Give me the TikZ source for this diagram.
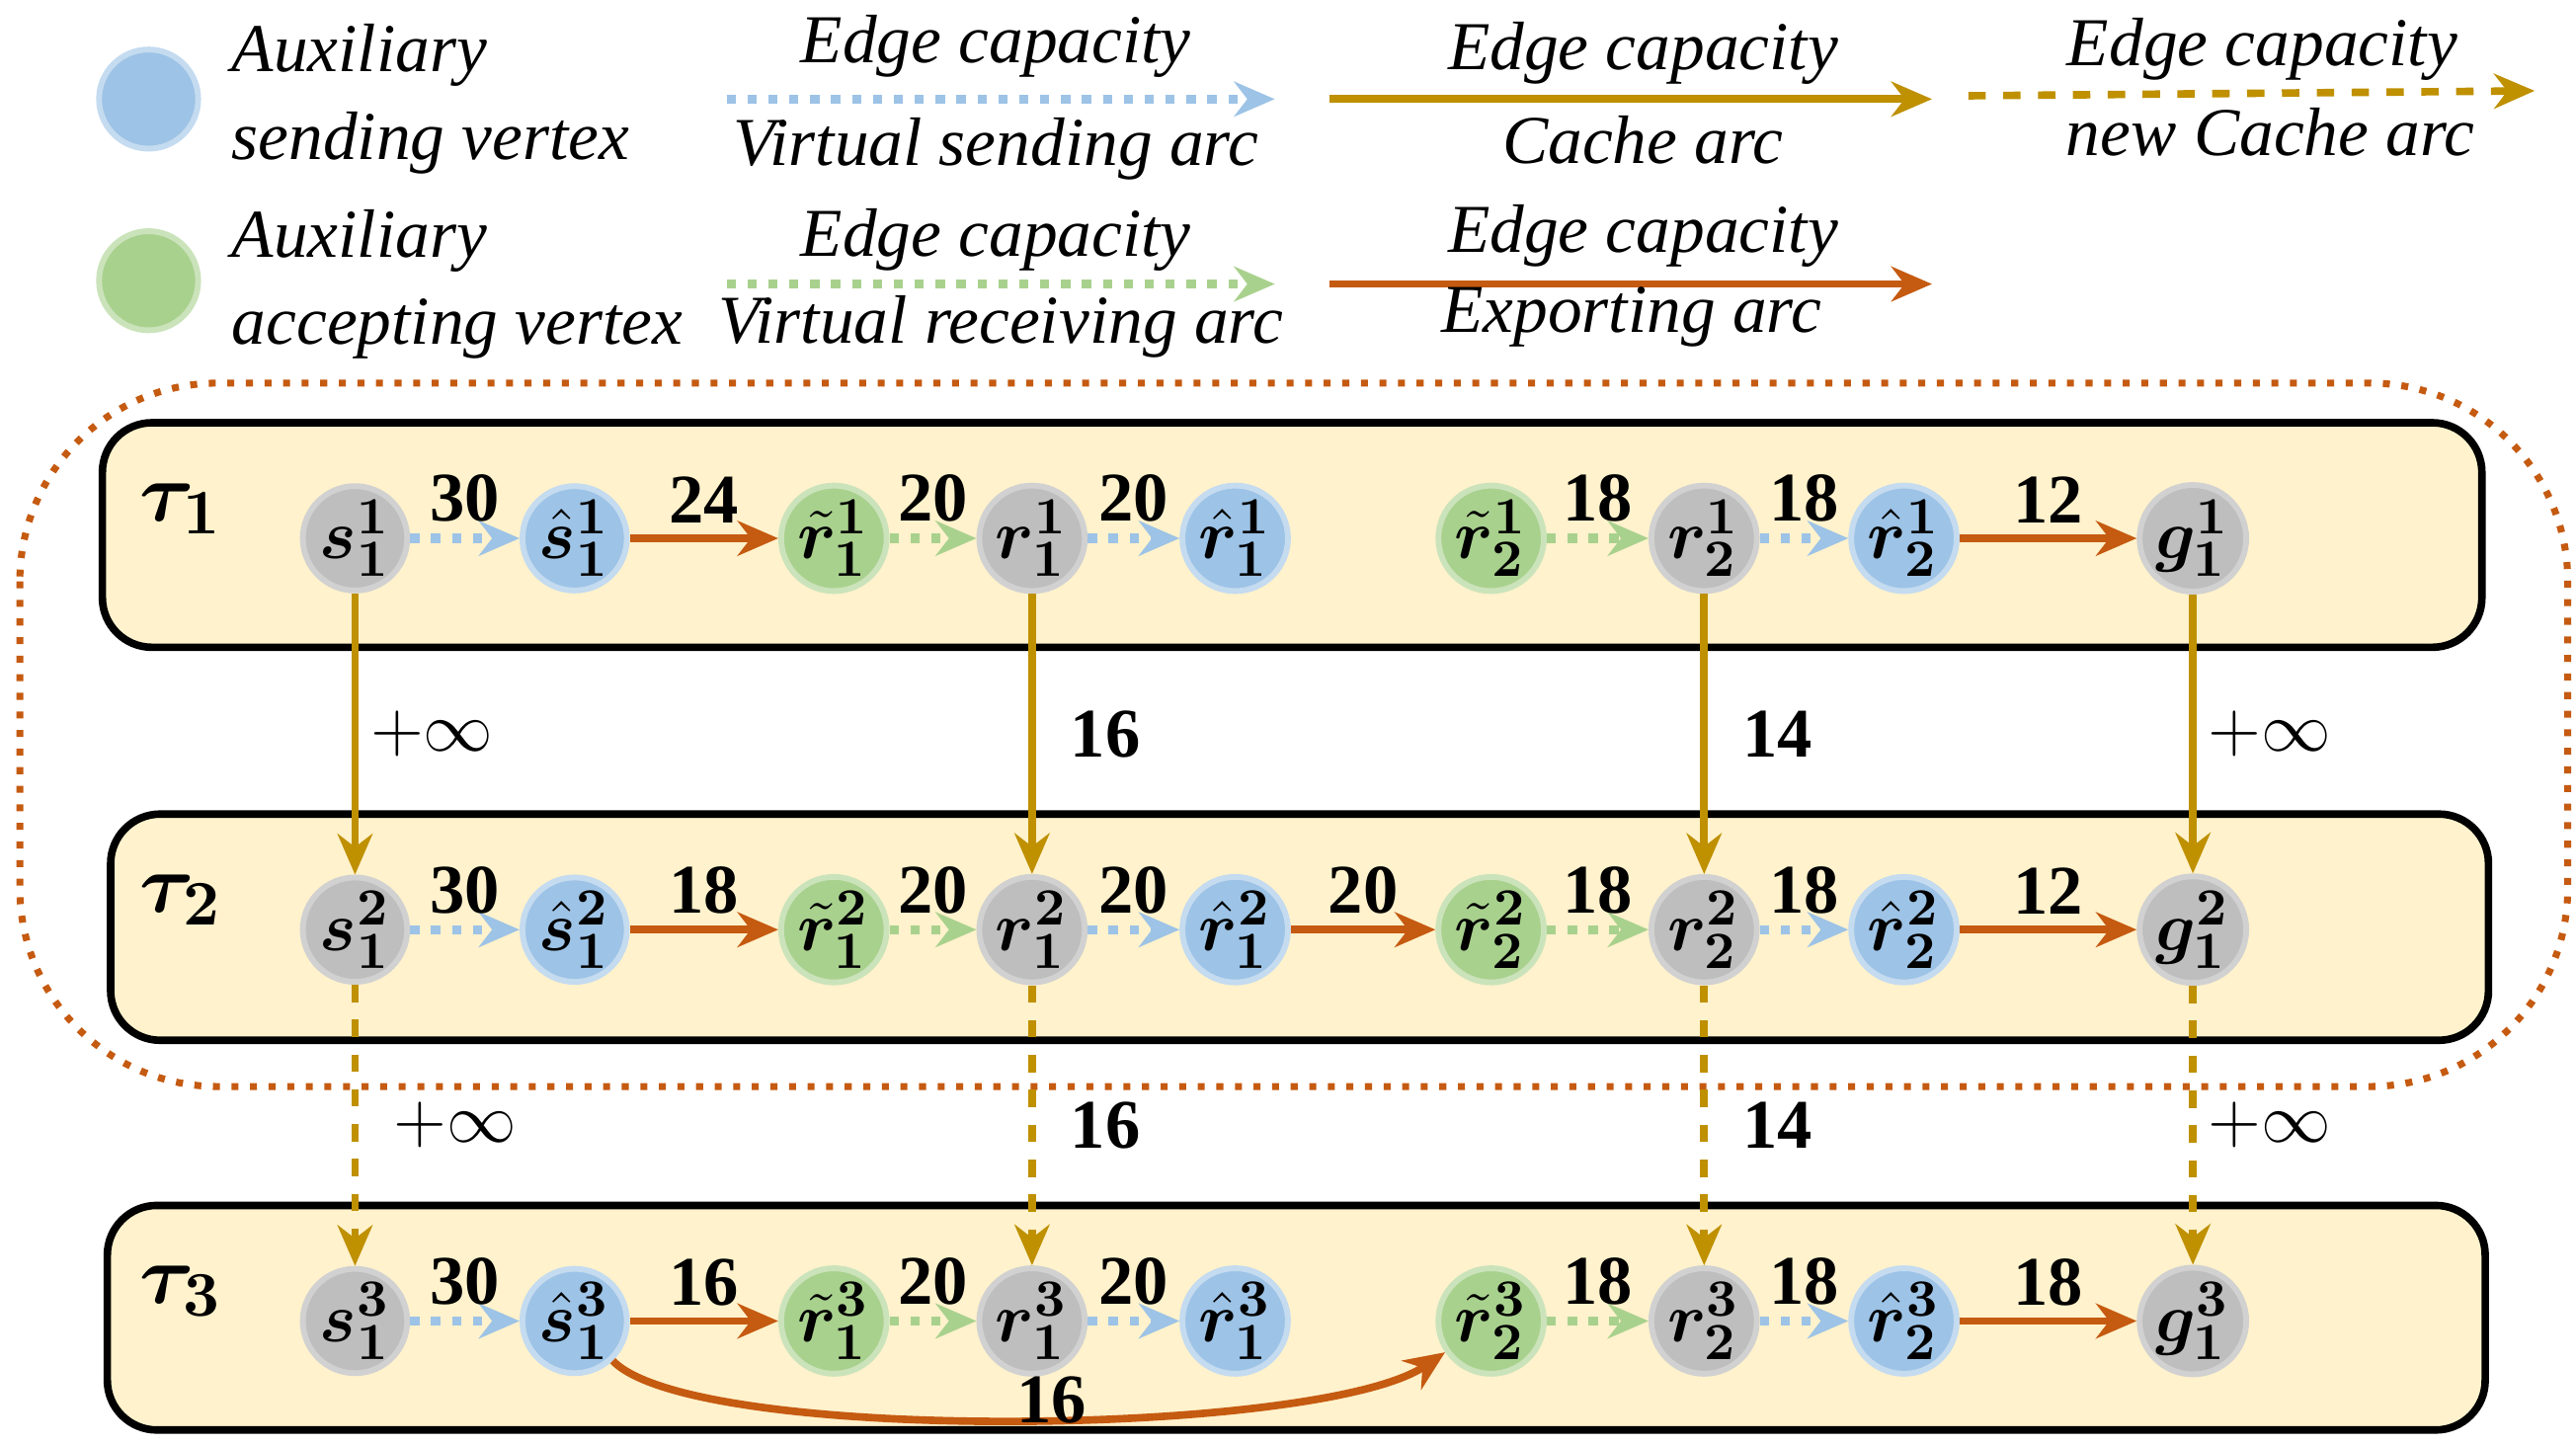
\documentclass[tikz,border=0pt]{standalone}
\usepackage{bm}
\usepackage{fontspec}
\setmainfont{Liberation Serif}
\usetikzlibrary{arrows.meta}
\definecolor{gold}{RGB}{191,144,0}
\definecolor{orng}{RGB}{197,90,17}
\definecolor{lblue}{RGB}{157,195,230}
\definecolor{lgreen}{RGB}{169,209,142}
\definecolor{gry}{RGB}{190,190,190}
\definecolor{boxf}{RGB}{255,242,204}
\begin{document}
\begin{tikzpicture}[x=0.01cm,y=-0.01cm,
 v/.style={circle,minimum size=0.58cm,inner sep=0pt,font=\fontsize{12.5}{15}\selectfont},
 gv/.style={v,fill=gry,draw=gry!70!white,line width=1pt},
 bv/.style={v,fill=lblue,draw=lblue!60!white,line width=1pt},
 nv/.style={v,fill=lgreen,draw=lgreen!60!white,line width=1pt},
 tip/.style={-{Stealth[length=7pt,width=6pt]}},
 bd/.style={tip,lblue,dotted,line width=1.6pt},
 gd/.style={tip,lgreen,dotted,line width=1.6pt},
 ca/.style={tip,gold,line width=1.3pt},
 nc/.style={tip,gold,dashed,line width=1.3pt},
 ex/.style={tip,orng,line width=1.3pt},
 lab/.style={font=\fontsize{12}{14}\selectfont\bfseries,text=black,inner sep=2pt},
 leg/.style={font=\fontsize{11.8}{15}\selectfont\itshape,text=black},
 box/.style={draw=black,fill=boxf,line width=1.3pt,rounded corners=0.3cm}]
\useasboundingbox (0,0) rectangle (1560,875);
% legend
\node[bv,minimum size=0.6cm] (lb) at (90,60) {};
\node[leg,anchor=west,align=left] (lbt) at (128,60) {Auxiliary\\sending vertex};
\node[nv,minimum size=0.6cm] (lg) at (90,170) {};
\node[leg,anchor=west,align=left] (lgt) at (128,172) {Auxiliary\\accepting vertex};
\coordinate (l1a) at (440,60); \coordinate (l1b) at (772,60);
\draw[bd] (l1a) -- (l1b);
\node[leg] (t1a) at (603,28) {Edge capacity}; \node[leg] (t1b) at (603,90) {Virtual sending arc};
\coordinate (l2a) at (805,60); \coordinate (l2b) at (1170,60);
\draw[ca] (l2a) -- (l2b);
\node[leg] (t2a) at (995,32) {Edge capacity}; \node[leg] (t2b) at (995,85) {Cache arc};
\coordinate (l3a) at (1192,58); \coordinate (l3b) at (1535,55);
\draw[nc] (l3a) -- (l3b);
\node[leg] (t3a) at (1370,30) {Edge capacity}; \node[leg] (t3b) at (1375,80) {new Cache arc};
\coordinate (l4a) at (440,172); \coordinate (l4b) at (772,172);
\draw[gd] (l4a) -- (l4b);
\node[leg] (t4a) at (603,145) {Edge capacity}; \node[leg] (t4b) at (606,198) {Virtual receiving arc};
\coordinate (l5a) at (805,172); \coordinate (l5b) at (1170,172);
\draw[ex] (l5a) -- (l5b);
\node[leg] (t5a) at (995,143) {Edge capacity}; \node[leg] (t5b) at (988,192) {Exporting arc};
% frames
\draw[orng,dotted,line width=1.2pt,rounded corners=1.2cm] (12,232) rectangle (1555,658);
\draw[box] (62,256) rectangle (1503,392);
\draw[box] (67,493) rectangle (1507,630);
\draw[box] (65,730) rectangle (1505,866);
\node[font=\fontsize{15}{17}\selectfont] (T1) at (110,308) {$\bm{\tau}_{\bm 1}$};
\node[font=\fontsize{15}{17}\selectfont] (T2) at (110,545) {$\bm{\tau}_{\bm 2}$};
\node[font=\fontsize{15}{17}\selectfont] (T3) at (110,782) {$\bm{\tau}_{\bm 3}$};
% nodes
\foreach \r/\y in {1/326,2/563,3/800}{
 \node[gv] (s\r) at (215,\y) {$\bm{s}_{\bm 1}^{\bm \r}$};
 \node[bv] (sh\r) at (348,\y) {$\hat{\bm{s}}_{\bm 1}^{\bm \r}$};
 \node[nv] (rt\r) at (505,\y) {$\tilde{\bm{r}}_{\bm 1}^{\bm \r}$};
 \node[gv] (r\r) at (625,\y) {$\bm{r}_{\bm 1}^{\bm \r}$};
 \node[bv] (rh\r) at (748,\y) {$\hat{\bm{r}}_{\bm 1}^{\bm \r}$};
 \node[nv] (qt\r) at (903,\y) {$\tilde{\bm{r}}_{\bm 2}^{\bm \r}$};
 \node[gv] (q\r) at (1032,\y) {$\bm{r}_{\bm 2}^{\bm \r}$};
 \node[bv] (qh\r) at (1153,\y) {$\hat{\bm{r}}_{\bm 2}^{\bm \r}$};
 \node[gv] (g\r) at (1328,\y) {$\bm{g}_{\bm 1}^{\bm \r}$};
}
% row 1
\draw[bd] (s1) -- node[lab,above]{30} (sh1);
\draw[ex] (sh1) -- node[lab,above]{24} (rt1);
\draw[gd] (rt1) -- node[lab,above]{20} (r1);
\draw[bd] (r1) -- node[lab,above]{20} (rh1);
\draw[gd] (qt1) -- node[lab,above]{18} (q1);
\draw[bd] (q1) -- node[lab,above]{18} (qh1);
\draw[ex] (qh1) -- node[lab,above]{12} (g1);
% row 2
\draw[bd] (s2) -- node[lab,above]{30} (sh2);
\draw[ex] (sh2) -- node[lab,above]{18} (rt2);
\draw[gd] (rt2) -- node[lab,above]{20} (r2);
\draw[bd] (r2) -- node[lab,above]{20} (rh2);
\draw[ex] (rh2) -- node[lab,above]{20} (qt2);
\draw[gd] (qt2) -- node[lab,above]{18} (q2);
\draw[bd] (q2) -- node[lab,above]{18} (qh2);
\draw[ex] (qh2) -- node[lab,above]{12} (g2);
% row 3
\draw[bd] (s3) -- node[lab,above]{30} (sh3);
\draw[ex] (sh3) -- node[lab,above]{16} (rt3);
\draw[gd] (rt3) -- node[lab,above]{20} (r3);
\draw[bd] (r3) -- node[lab,above]{20} (rh3);
\draw[gd] (qt3) -- node[lab,above]{18} (q3);
\draw[bd] (q3) -- node[lab,above]{18} (qh3);
\draw[ex] (qh3) -- node[lab,above]{18} (g3);
\draw[ex] (sh3) .. controls (420,875) and (800,870) .. (qt3);
\node[lab] (c16) at (637,848) {16};
% verticals
\draw[ca] (s1) -- node[lab,right,font=\fontsize{13}{15}\selectfont]{$+\infty$} (s2);
\draw[ca] (r1) -- node[lab,right,xshift=4pt]{16} (r2);
\draw[ca] (q1) -- node[lab,right,xshift=4pt]{14} (q2);
\draw[ca] (g1) -- node[lab,right,font=\fontsize{13}{15}\selectfont]{$+\infty$} (g2);
\draw[nc] (s2) -- node[lab,right,xshift=4pt,font=\fontsize{13}{15}\selectfont]{$+\infty$} (s3);
\draw[nc] (r2) -- node[lab,right,xshift=4pt]{16} (r3);
\draw[nc] (q2) -- node[lab,right,xshift=4pt]{14} (q3);
\draw[nc] (g2) -- node[lab,right,font=\fontsize{13}{15}\selectfont]{$+\infty$} (g3);
\end{tikzpicture}
\end{document}
